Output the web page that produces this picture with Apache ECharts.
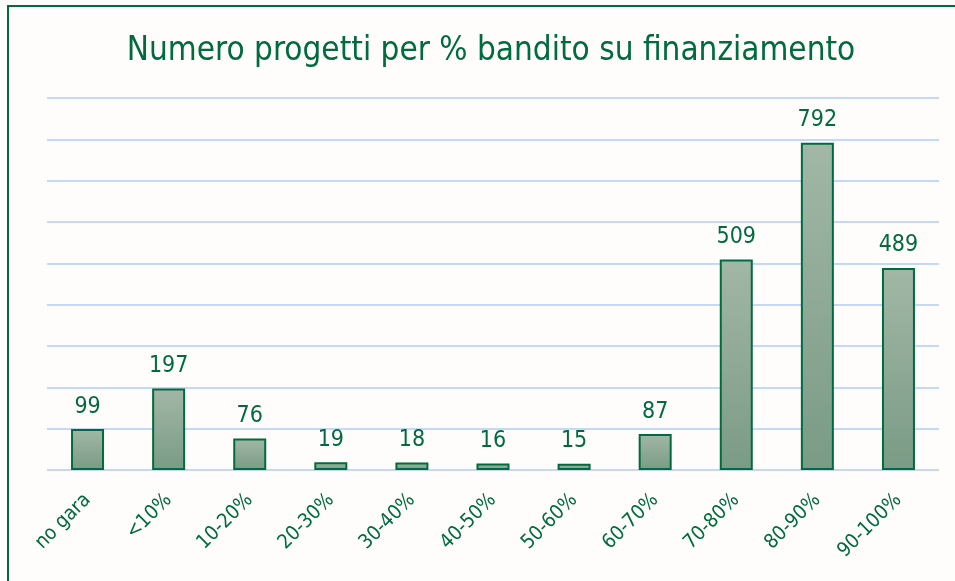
<!DOCTYPE html>
<html><head><meta charset="utf-8">
<script src="https://cdn.jsdelivr.net/npm/echarts@6/dist/echarts.min.js"></script>
<style>html,body{margin:0;padding:0;background:#fefdfb}#c{width:955px;height:581px}</style>
</head><body><div id="c"></div>
<script>
const categories = ['no gara','<10%','10-20%','20-30%','30-40%','40-50%','50-60%','60-70%','70-80%','80-90%','90-100%'];
const values = [99,197,76,19,18,16,15,87,509,792,489];
const titleText = 'Numero progetti per % bandito su finanziamento';
const green = '#006b3f';
const font = 'DejaVu Sans Condensed, DejaVu Sans';
const chart = echarts.init(document.getElementById('c'));
chart.setOption({
  backgroundColor: '#fefdfb',
  animation: false,
  title: {text: titleText, left: 486, textAlign: 'center', top: 30,
    textStyle: {fontFamily: font, fontSize: 33, fontWeight: 'normal', color: green}},
  graphic: [{type: 'rect', shape: {x: 8, y: 6, width: 1000, height: 700},
    style: {fill: 'none', stroke: green, lineWidth: 2}}],
  grid: {left: 47, right: 16, top: 98, bottom: 111},
  xAxis: {type: 'category', data: categories,
    axisLine: {show: false}, axisTick: {show: false},
    axisLabel: {rotate: 45, color: green, fontFamily: font, fontSize: 20, margin: 27, interval: 0}},
  yAxis: {type: 'value', min: 0, max: 900, interval: 100,
    axisLabel: {show: false}, axisLine: {show: false}, axisTick: {show: false},
    splitLine: {lineStyle: {color: '#c6d8f7', width: 2}}},
  series: [{type: 'bar', data: values, barWidth: 33,
    itemStyle: {borderColor: green, borderWidth: 2,
      color: new echarts.graphic.LinearGradient(0,0,0,1,[{offset:0,color:'#a2b7a6'},{offset:1,color:'#7a9b85'}])},
    label: {show: true, position: 'top', distance: 11, color: green, fontFamily: font, fontSize: 23}}]
});
</script></body></html>
